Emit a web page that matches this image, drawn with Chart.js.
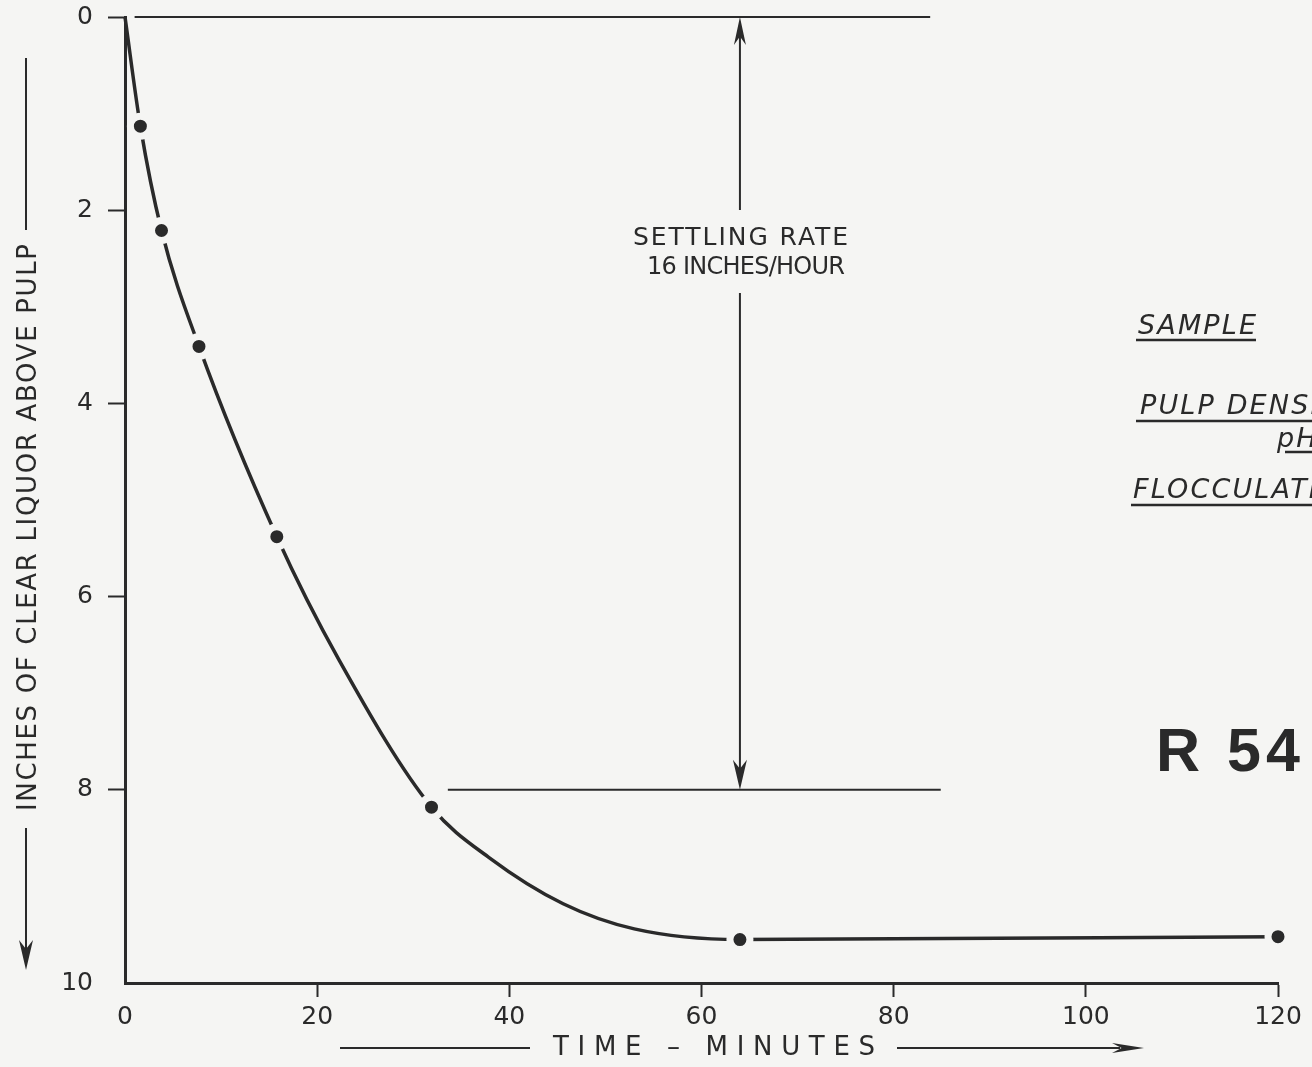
<!DOCTYPE html>
<html>
<head>
<meta charset="utf-8">
<script src="https://cdn.jsdelivr.net/npm/chart.js@4.4.1/dist/chart.umd.min.js"></script>
<style>
  html, body { margin: 0; padding: 0; background: #f5f5f3; overflow: hidden; }
  canvas { display: block; }
</style>
</head>
<body>
<canvas id="c" width="1312" height="1067"></canvas>
<script>
const PAPER = '#f5f5f3';
const INK = '#2a2a2a';

// measured points: time in minutes, inches of clear liquor
const timeMin = [1.6, 3.8, 7.7, 15.8, 31.9, 64, 120];
const depthIn = [1.13, 2.21, 3.41, 5.38, 8.18, 9.55, 9.52];

// the hand drawn curve
const curveTime  = [0, 1.6, 3.8, 7.7, 15.8, 22.3, 31.9, 38.0, 45.6, 53.0, 64, 120];
const curveDepth = [0, 1.13, 2.21, 3.41, 5.38, 6.66, 8.18, 8.71, 9.18, 9.44, 9.55, 9.52];

// settling rate construction lines
const topLineX = [1, 83.8];
const topLineY = 0;
const rateLineX = [33.6, 84.9];
const rateLineY = 8;
const arrowX = 64;

const xTicks = [0, 20, 40, 60, 80, 100, 120];
const yTicks = [0, 2, 4, 6, 8, 10];

const yTitle = 'INCHES OF CLEAR LIQUOR ABOVE PULP';
const xTitle = 'TIME \u2013 MINUTES';
const rateText = ['SETTLING RATE', '16 INCHES/HOUR'];
const sampleLabel = 'SAMPLE';
const densityLabel = 'PULP DENSITY';
const phLabel = 'pH';
const flocLabel = 'FLOCCULATION';
const sampleId = 'R 54';

const pts = (xs, ys) => xs.map((x, i) => ({ x, y: ys[i] }));

function fitText(ctx, text, x, y, w) {
  ctx.letterSpacing = '0px';
  const w0 = ctx.measureText(text).width;
  const ls = (w - w0) / (text.length - 1);
  ctx.letterSpacing = ls + 'px';
  ctx.fillText(text, x, y);
  ctx.letterSpacing = '0px';
  return ls;
}

function dart(ctx, x, y, dx, dy, len, half) {
  // arrow head with tip at x,y pointing along dx,dy
  const px = -dy, py = dx;
  ctx.beginPath();
  ctx.moveTo(x, y);
  ctx.lineTo(x - dx * len + px * half, y - dy * len + py * half);
  ctx.lineTo(x - dx * len * 0.7, y - dy * len * 0.7);
  ctx.lineTo(x - dx * len - px * half, y - dy * len - py * half);
  ctx.closePath();
  ctx.fill();
}

function line(ctx, x1, y1, x2, y2, w) {
  ctx.lineWidth = w;
  ctx.beginPath();
  ctx.moveTo(x1, y1);
  ctx.lineTo(x2, y2);
  ctx.stroke();
}

const paper = {
  id: 'paper',
  beforeDraw(chart) {
    const c = chart.ctx;
    c.save();
    c.fillStyle = PAPER;
    c.fillRect(0, 0, chart.width, chart.height);
    c.restore();
  }
};

const notes = {
  id: 'notes',
  afterDraw(chart) {
    const c = chart.ctx;
    const xs = chart.scales.x, ys = chart.scales.y;
    c.save();
    c.fillStyle = INK;
    c.strokeStyle = INK;
    c.textBaseline = 'middle';
    c.textAlign = 'left';

    // settling rate arrow
    const ax = xs.getPixelForValue(arrowX);
    const y0 = ys.getPixelForValue(topLineY), y8 = ys.getPixelForValue(rateLineY);
    line(c, ax, y0 + 10, ax, 210, 2);
    line(c, ax, 293, ax, y8 - 10, 2);
    dart(c, ax, y0, 0, -1, 28, 6);
    dart(c, ax, y8, 0, 1, 30, 7);

    c.font = '25px "DejaVu Sans"';
    fitText(c, rateText[0], 633, 238, 215);
    c.font = '24px "DejaVu Sans"';
    fitText(c, rateText[1], 647, 268, 198);

    // y axis title with arrow
    c.save();
    c.translate(29, 528);
    c.rotate(-Math.PI / 2);
    c.font = '26px "DejaVu Sans"';
    fitText(c, yTitle, -283, 0, 567);
    c.restore();
    line(c, 26, 58, 26, 230, 2);
    line(c, 26, 828, 26, 950, 2);
    dart(c, 26, 970, 0, 1, 30, 7);

    // x axis title with arrow
    c.font = '26px "DejaVu Sans"';
    fitText(c, xTitle, 553, 1048, 322);
    line(c, 340, 1048, 530, 1048, 2);
    line(c, 897, 1048, 1120, 1048, 2);
    dart(c, 1144, 1048, 1, 0, 32, 5);

    // sample notes on the right
    c.textBaseline = 'alphabetic';
    c.font = 'italic 27px "DejaVu Sans"';
    const ls = fitText(c, sampleLabel, 1138, 334, 118);
    c.letterSpacing = ls + 'px';
    c.fillText(densityLabel, 1140, 414);
    c.fillText(flocLabel, 1133, 498);
    c.fillText(phLabel, 1277, 447);
    c.letterSpacing = '0px';
    line(c, 1136, 340, 1256, 340, 2.5);
    line(c, 1136, 421, 1312, 421, 2.5);
    line(c, 1285, 452, 1312, 452, 2.5);
    line(c, 1131, 505, 1312, 505, 2.5);

    c.font = 'bold 61px "Liberation Sans"';
    c.letterSpacing = '5px';
    c.fillText(sampleId, 1156, 771);
    c.letterSpacing = '0px';
    c.restore();
  }
};

const gridOpts = (len, hide) => ({
  display: true,
  drawOnChartArea: false,
  drawTicks: true,
  tickLength: len,
  tickWidth: 2,
  tickColor: ctx => (ctx.tick && ctx.tick.value === hide) ? 'rgba(0,0,0,0)' : INK
});

new Chart(document.getElementById('c'), {
  type: 'line',
  data: {
    datasets: [
      {
        label: 'measured',
        data: pts(timeMin, depthIn),
        showLine: false,
        pointRadius: 10,
        pointBackgroundColor: INK,
        pointBorderColor: PAPER,
        pointBorderWidth: 7,
        clip: false
      },
      {
        label: 'curve',
        data: pts(curveTime, curveDepth),
        borderColor: INK,
        borderWidth: 3.5,
        pointRadius: 0,
        cubicInterpolationMode: 'monotone',
        clip: false
      },
      {
        label: 'top',
        data: pts(topLineX, topLineX.map(() => topLineY)),
        borderColor: INK,
        borderWidth: 2,
        pointRadius: 0,
        clip: false
      },
      {
        label: 'rate',
        data: pts(rateLineX, rateLineX.map(() => rateLineY)),
        borderColor: INK,
        borderWidth: 2,
        pointRadius: 0,
        clip: false
      }
    ]
  },
  options: {
    responsive: false,
    animation: false,
    devicePixelRatio: 1,
    layout: { padding: { top: 15, right: 34, left: 0, bottom: 0 } },
    plugins: { legend: { display: false }, tooltip: { enabled: false } },
    scales: {
      x: {
        type: 'linear',
        min: 0, max: 120,
        afterFit: s => { s.height = 84; s.paddingLeft = 0; s.paddingRight = 0; },
        afterBuildTicks: s => { s.ticks = xTicks.map(v => ({ value: v })); },
        grid: gridOpts(14, 0),
        border: { display: true, color: INK, width: 3 },
        ticks: { padding: 5, color: INK, font: { family: 'DejaVu Sans', size: 25 }, maxRotation: 0 }
      },
      y: {
        type: 'linear',
        reverse: true,
        min: 0, max: 10,
        afterFit: s => { s.width = 125; s.paddingTop = 0; s.paddingBottom = 0; },
        afterBuildTicks: s => { s.ticks = yTicks.map(v => ({ value: v })); },
        grid: gridOpts(17, 10),
        border: { display: true, color: INK, width: 3 },
        ticks: { padding: 15, color: INK, font: { family: 'DejaVu Sans', size: 25 } }
      }
    }
  },
  plugins: [paper, notes]
});
</script>
</body>
</html>
